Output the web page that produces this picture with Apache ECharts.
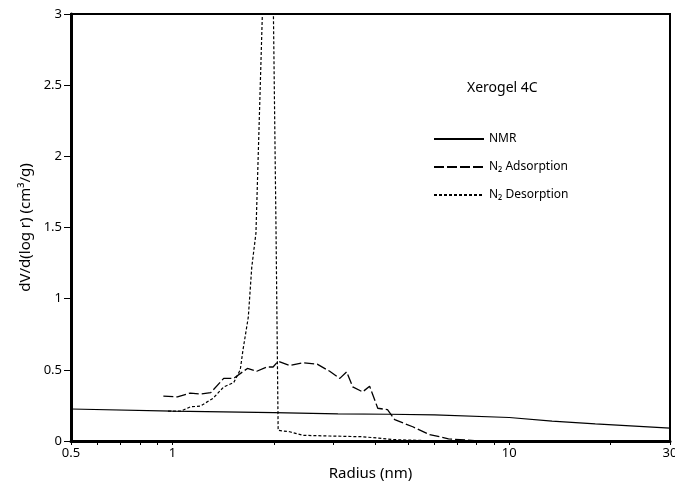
<!DOCTYPE html>
<html>
<head>
<meta charset="utf-8">
<script src="https://cdn.jsdelivr.net/npm/echarts@6/dist/echarts.min.js"></script>
<style>
  html, body { margin: 0; padding: 0; background: #fff; }
  #chart { width: 675px; height: 486px; }
</style>
</head>
<body>
<div id="chart"></div>
<script>
// radius (nm) and dV/d(log r)
const nmrR = [0.5, 1, 2, 3.1, 4.4, 6, 10, 13.4, 18, 30];
const nmrV = [0.225, 0.21, 0.2, 0.19, 0.188, 0.183, 0.165, 0.14, 0.12, 0.09];

const adsR = [0.94, 1.035, 1.13, 1.21, 1.3, 1.42, 1.52, 1.67, 1.78, 1.91, 1.99, 2.06, 2.23, 2.44, 2.69, 2.93, 3.14, 3.29, 3.43, 3.67, 3.85, 4.07, 4.35, 4.57, 5.17, 5.8, 6.2, 6.6, 7.5, 8.2];
const adsV = [0.315, 0.31, 0.337, 0.33, 0.34, 0.44, 0.44, 0.51, 0.49, 0.52, 0.52, 0.56, 0.53, 0.55, 0.54, 0.49, 0.44, 0.485, 0.38, 0.345, 0.385, 0.23, 0.22, 0.15, 0.1, 0.045, 0.03, 0.015, 0.006, 0];

const desR = [0.97, 1.06, 1.13, 1.21, 1.32, 1.42, 1.52, 1.59, 1.62, 1.68, 1.72, 1.77, 1.86, 1.99, 2.03, 2.06, 2.23, 2.44, 2.93, 3.67, 4.1, 4.5, 5.5];
const desV = [0.21, 0.21, 0.24, 0.245, 0.3, 0.38, 0.41, 0.5, 0.64, 0.87, 1.22, 1.46, 3.2, 3.2, 1.5, 0.075, 0.065, 0.04, 0.035, 0.03, 0.02, 0.01, 0.004];

const xTicks = [0.5, 0.6, 0.7, 0.8, 0.9, 1, 2, 3, 4, 5, 6, 7, 8, 9, 10, 20, 30];
const xLabels = [0.5, 1, 10, 30];

const pairs = (xs, ys) => xs.map((x, i) => [x, ys[i]]);

const font = "Noto Sans";
const chart = echarts.init(document.getElementById("chart"));
chart.setOption({
  animation: false,
  backgroundColor: "#fff",
  textStyle: { fontFamily: font, color: "#000" },
  grid: {
    left: 71, top: 14, right: 5, bottom: 45,
    outerBoundsMode: "none",
    show: true, borderColor: "#000", borderWidth: 2,
  },
  title: {
    text: "Xerogel 4C",
    left: 462, top: 76,
    textStyle: { fontFamily: font, fontSize: 14, fontWeight: "normal", color: "#000" },
  },
  legend: {
    orient: "vertical",
    left: 428, top: 128,
    itemWidth: 50, itemHeight: 12, itemGap: 16,
    itemStyle: { opacity: 0 },
    textStyle: { fontFamily: font, fontSize: 12, color: "#000" },
    data: ["NMR", "N₂ Adsorption", "N₂ Desorption"],
  },
  xAxis: {
    type: "log",
    logBase: 10,
    min: 0.5, max: 30,
    name: "Radius (nm)",
    nameLocation: "middle",
    nameGap: 25,
    nameTextStyle: { fontFamily: font, fontSize: 15, color: "#000" },
    axisLine: { lineStyle: { color: "#000", width: 3 } },
    axisTick: { show: true, length: 4, customValues: xTicks, lineStyle: { color: "#000", width: 1 } },
    axisLabel: { customValues: xLabels, fontSize: 13, color: "#000", margin: 6 },
    splitLine: { show: false },
  },
  yAxis: {
    type: "value",
    min: 0, max: 3, interval: 0.5,
    name: "dV/d(log r) (cm³/g)",
    nameLocation: "middle",
    nameGap: 36,
    nameTextStyle: { fontFamily: font, fontSize: 15, color: "#000" },
    axisLine: { show: true, lineStyle: { color: "#000", width: 3 } },
    axisTick: { show: true, length: 7, lineStyle: { color: "#000", width: 1 } },
    axisLabel: { fontSize: 13, color: "#000", margin: 9 },
    splitLine: { show: false },
  },
  series: [
    {
      name: "NMR", type: "line", symbol: "none",
      lineStyle: { color: "#000", width: 1.2, type: "solid" },
      itemStyle: { color: "#000" },
      data: pairs(nmrR, nmrV),
    },
    {
      name: "N₂ Adsorption", type: "line", symbol: "none",
      lineStyle: { color: "#000", width: 1.3, type: [10, 3] },
      itemStyle: { color: "#000" },
      data: pairs(adsR, adsV),
    },
    {
      name: "N₂ Desorption", type: "line", symbol: "none",
      lineStyle: { color: "#000", width: 1.2, type: [3, 2] },
      itemStyle: { color: "#000" },
      data: pairs(desR, desV),
    },
  ],
});
</script>
</body>
</html>
